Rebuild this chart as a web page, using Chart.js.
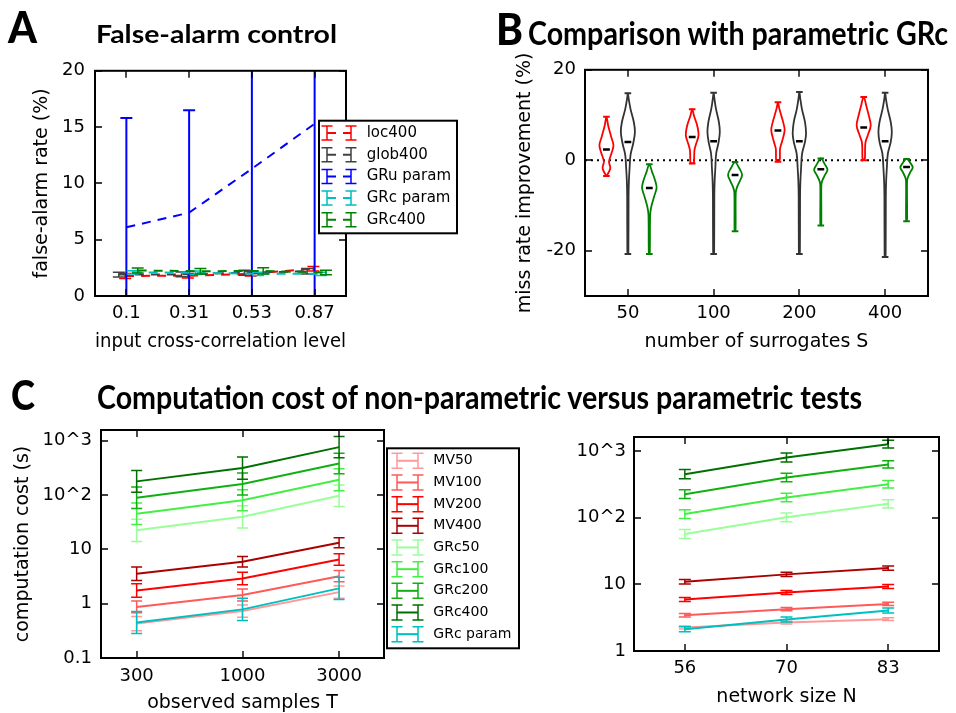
<!DOCTYPE html>
<html><head><meta charset="utf-8">
<script src="https://cdn.jsdelivr.net/npm/chart.js@4.4.1/dist/chart.umd.min.js"></script>
<style>
html,body{margin:0;padding:0;background:#fff;}
#wrap{position:relative;width:956px;height:713px;overflow:hidden;background:#fff;}
canvas{position:absolute;}
.tt{position:absolute;white-space:nowrap;font-family:'Lato','Open Sans',sans-serif;font-weight:700;color:#000;transform-origin:0 0;z-index:5;line-height:1;left:0;top:0;}
.lt{font-weight:900;}
</style></head><body>
<div id="wrap">
<canvas id="cA"></canvas>
<canvas id="cB"></canvas>
<canvas id="cC1"></canvas>
<canvas id="cC2"></canvas>
<div class="tt lt" id="tLA" style="font-size:43px">A</div>
<div class="tt" id="tA" style="font-size:25px">False-alarm control</div>
<div class="tt lt" id="tLB" style="font-size:44px">B</div>
<div class="tt" id="tB" style="font-size:32px">Comparison with parametric GRc</div>
<div class="tt lt" id="tLC" style="font-size:41px">C</div>
<div class="tt" id="tC" style="font-size:32px">Computation cost of non-parametric versus parametric tests</div>
</div>
<script>
// ================= DATA =================
// Panel A : false-alarm rate (%)
const corrLevels = ['0.1', '0.31', '0.53', '0.87'];
const loc400 = [1.78, 1.80, 1.97, 2.43];
const loc400Err = [0.22, 0.20, 0.20, 0.20];
const glob400 = [1.90, 1.92, 2.07, 2.20];
const glob400Err = [0.22, 0.22, 0.22, 0.25];
const gruParam = [6.1, 7.4, 11.3, 15.3];
const gruParamErr = [9.7, 9.1, 13.0, 17.0];
const grcParamA = [2.10, 2.06, 1.97, 1.97];
const grcParamAErr = [0.15, 0.15, 0.15, 0.15];
const grc400A = [2.27, 2.20, 2.23, 2.08];
const grc400AErr = [0.22, 0.25, 0.28, 0.20];
const yTicksA = [0, 5, 10, 15, 20];

// Panel B : miss rate improvement (%) violins, profile = [value, half-width]
const surrogates = ['50', '100', '200', '400'];
const locMedian = [2.4, 5.15, 6.6, 7.25];
const globMedian = [4.05, 4.2, 4.2, 4.2];
const grcMedian = [-6.1, -3.25, -2.0, -1.5];
const locShapes = [
  [[-3.5,0],[-2.7,0.025],[-1.7,0.045],[-0.3,0.03],[1.5,0.058],[3.3,0.082],[5.2,0.055],[7.7,0.02],[9.6,0]],
  [[-0.7,0],[-0.5,0.02],[0.8,0.023],[2.3,0.027],[3.7,0.047],[5.5,0.074],[7.7,0.058],[9.9,0.02],[11.3,0]],
  [[-0.3,0],[0,0.02],[1.2,0.023],[2.6,0.025],[4.1,0.047],[6.6,0.078],[8.5,0.06],[9.9,0.039],[11.5,0.015],[12.8,0]],
  [[0,0],[0.4,0.014],[2.5,0.016],[4.1,0.022],[5.5,0.047],[7.7,0.082],[10,0.058],[12,0.031],[14,0]]
];
const globShapes = [
  [[-20.7,0],[-20.2,0.006],[-8,0.008],[-4.6,0.012],[-1.7,0.02],[1.2,0.031],[3.7,0.062],[6.2,0.082],[8.4,0.07],[11.3,0.031],[13.5,0.01],[14.8,0]],
  [[-20.7,0],[-20.2,0.006],[-8,0.008],[-4.6,0.012],[-1.7,0.02],[1.5,0.03],[4,0.058],[6.2,0.072],[8.4,0.062],[11.3,0.028],[13.5,0.01],[14.9,0]],
  [[-20.7,0],[-20.2,0.006],[-8,0.008],[-4.6,0.012],[-1.7,0.02],[1.5,0.032],[4,0.065],[5.9,0.078],[8.4,0.066],[11.3,0.03],[13.7,0.01],[15.1,0]],
  [[-21.4,0],[-20.9,0.006],[-8,0.008],[-4.6,0.012],[-1.7,0.02],[1.5,0.032],[4,0.065],[6.2,0.078],[8.4,0.066],[11.3,0.03],[13.5,0.01],[14.9,0]]
];
const grcShapes = [
  [[-20.7,0],[-20.2,0.006],[-12,0.01],[-10.1,0.025],[-7.9,0.058],[-6.1,0.085],[-4.6,0.07],[-2.5,0.031],[-0.9,0]],
  [[-15.7,0],[-15.2,0.006],[-7.2,0.008],[-6.1,0.02],[-4.6,0.055],[-3.2,0.082],[-1.7,0.047],[-0.4,0]],
  [[-14.4,0],[-13.9,0.006],[-5.5,0.006],[-4.6,0.015],[-3.3,0.047],[-2.1,0.078],[-0.9,0.047],[0.4,0]],
  [[-13.5,0],[-13.0,0.006],[-4.6,0.006],[-3.8,0.015],[-2.5,0.047],[-1.6,0.072],[-0.65,0.047],[0.3,0]]
];
const yTicksB = [-20, 0, 20];

// Panel C left : computation cost (s) vs observed samples T
const samplesT = [300, 1000, 3000];
const mv50T = [0.43, 0.73, 1.63];    const mv50TF = [1.35, 1.30, 1.30];
const mv100T = [0.87, 1.44, 3.2];    const mv100TF = [1.28, 1.29, 1.27];
const mv200T = [1.75, 2.91, 6.5];    const mv200TF = [1.33, 1.30, 1.27];
const mv400T = [3.55, 5.9, 13.2];    const mv400TF = [1.33, 1.25, 1.24];
const grc50T = [22.4, 39.6, 97];     const grc50TF = [1.60, 1.60, 1.58];
const grc100T = [45, 80, 191];       const grc100TF = [1.58, 1.56, 1.59];
const grc200T = [89, 159, 380];      const grc200TF = [1.57, 1.59, 1.55];
const grc400T = [178, 313, 760];     const grc400TF = [1.59, 1.60, 1.57];
const grcParamT = [0.45, 0.785, 1.91]; const grcParamTF = [1.6, 1.6, 1.6];
const yTicksC = [0.1, 1, 10, 100, 1000];
const yTickLabelsC = ['0.1', '1', '10', '10^2', '10^3'];

// Panel C right : computation cost (s) vs network size N
const netSizeN = ['56', '70', '83'];
const mv50N = [2.25, 2.67, 3.0];     const mv50NF = [1.05, 1.05, 1.05];
const mv100N = [3.44, 4.24, 5.09];   const mv100NF = [1.06, 1.06, 1.06];
const mv200N = [5.93, 7.55, 9.3];    const mv200NF = [1.07, 1.07, 1.07];
const mv400N = [10.9, 14.1, 17.5];   const mv400NF = [1.08, 1.08, 1.075];
const grc50N = [57, 101, 161];       const grc50NF = [1.17, 1.16, 1.15];
const grc100N = [113, 200, 317];     const grc100NF = [1.16, 1.16, 1.135];
const grc200N = [225, 400, 628];     const grc200NF = [1.16, 1.16, 1.135];
const grc400N = [449, 798, 1265];    const grc400NF = [1.175, 1.17, 1.14];
const grcParamN = [2.12, 2.97, 4.05]; const grcParamNF = [1.09, 1.09, 1.09];

// ================= STYLE =================
const FONT = "'DejaVu Sans'";
const TICK_SIZE = 18, TITLE_SIZE = 19;
Chart.defaults.font.family = FONT;
Chart.defaults.font.size = TICK_SIZE;
Chart.defaults.color = '#000';
const RED = '#ff0000', GRAY = '#333333', BLUE = '#0000ff', CYAN = '#00bfbf', GREEN = '#008000';
const MVC = ['#ff9999', '#ff5a5a', '#ff0000', '#aa0000'];
const GRCC = ['#99ff99', '#44ee44', '#11b011', '#007000'];

// ================= PLUGINS =================
const errorBars = {
  id: 'errorBars',
  afterDatasetDraw(chart, args) {
    const ds = chart.data.datasets[args.index];
    if (!ds.errLo) return;
    const {ctx, chartArea: a, scales: {x, y}} = chart;
    ctx.save();
    ctx.beginPath(); ctx.rect(a.left, a.top, a.right - a.left, a.bottom - a.top); ctx.clip();
    ctx.strokeStyle = ds.borderColor; ctx.lineWidth = ds.errWidth || 1.5; ctx.setLineDash([]);
    const c = ds.capHalf || 5.5;
    ds.data.forEach((p, i) => {
      const px = x.getPixelForValue(p.x);
      const yl = y.getPixelForValue(ds.errLo[i]);
      const yh = y.getPixelForValue(ds.errHi[i]);
      ctx.beginPath();
      ctx.moveTo(px, yl); ctx.lineTo(px, yh);
      ctx.moveTo(px - c, yl); ctx.lineTo(px + c, yl);
      ctx.moveTo(px - c, yh); ctx.lineTo(px + c, yh);
      ctx.stroke();
    });
    ctx.restore();
  }
};

const mplDeco = {
  id: 'mplDeco',
  afterDraw(chart, args, o) {
    const {ctx, chartArea: a, scales: {x, y}} = chart;
    ctx.save();
    ctx.setLineDash([]);
    ctx.strokeStyle = '#000'; ctx.lineWidth = 1.4;
    const L = 7;
    x.ticks.forEach(t => {
      const px = Math.round(x.getPixelForValue(t.value));
      ctx.beginPath();
      ctx.moveTo(px, a.bottom); ctx.lineTo(px, a.bottom - L);
      ctx.moveTo(px, a.top); ctx.lineTo(px, a.top + L);
      ctx.stroke();
    });
    y.ticks.forEach(t => {
      const py = Math.round(y.getPixelForValue(t.value));
      ctx.beginPath();
      ctx.moveTo(a.left, py); ctx.lineTo(a.left + L, py);
      ctx.moveTo(a.right, py); ctx.lineTo(a.right - L, py);
      ctx.stroke();
    });
    ctx.lineWidth = 2;
    ctx.strokeRect(a.left, a.top, a.right - a.left, a.bottom - a.top);
    const lg = o && o.legend;
    if (lg) {
      const [x0, y0, x1, y1] = lg.box;
      ctx.fillStyle = '#fff'; ctx.fillRect(x0, y0, x1 - x0, y1 - y0);
      ctx.lineWidth = 2; ctx.strokeStyle = '#000'; ctx.strokeRect(x0, y0, x1 - x0, y1 - y0);
      chart.data.datasets.filter(d => d.inLegend).forEach((d, i) => {
        const cy = lg.firstY + i * lg.dy;
        ctx.strokeStyle = d.borderColor;
        ctx.lineWidth = d.borderWidth;
        ctx.setLineDash(d.borderDash || []);
        ctx.beginPath(); ctx.moveTo(lg.gx0, cy); ctx.lineTo(lg.gx1, cy); ctx.stroke();
        ctx.setLineDash([]); ctx.lineWidth = 1.5;
        [lg.gx0, lg.gx1].forEach(gx => {
          ctx.beginPath();
          ctx.moveTo(gx, cy - lg.half); ctx.lineTo(gx, cy + lg.half);
          ctx.moveTo(gx - lg.cap, cy - lg.half); ctx.lineTo(gx + lg.cap, cy - lg.half);
          ctx.moveTo(gx - lg.cap, cy + lg.half); ctx.lineTo(gx + lg.cap, cy + lg.half);
          ctx.stroke();
        });
        ctx.fillStyle = '#000';
        ctx.font = lg.font + 'px ' + FONT;
        ctx.textBaseline = 'middle'; ctx.textAlign = 'left';
        ctx.fillText(d.label, lg.tx, cy);
      });
    }
    ctx.restore();
  }
};

// ================= HELPERS =================
function axisX(o) {
  return {
    type: o.type || 'linear', position: 'bottom', min: o.min, max: o.max,
    grid: {display: false, drawTicks: false}, border: {display: false},
    ticks: {autoSkip: false, maxRotation: 0, minRotation: 0, padding: o.tickPad, color: '#000',
            font: {size: TICK_SIZE}, callback: (v, i) => o.labels[i]},
    title: {display: !!o.title, text: o.title || '', color: '#000', font: {size: o.titleSize || TITLE_SIZE},
            padding: {top: 0, bottom: o.titlePad || 0}},
    afterBuildTicks: s => { s.ticks = o.ticks.map(v => ({value: v})); },
    afterFit: s => { s.height = o.size; }
  };
}
function axisY(o) {
  return {
    type: o.type || 'linear', position: 'left', min: o.min, max: o.max,
    grid: {display: false, drawTicks: false}, border: {display: false},
    ticks: {autoSkip: false, padding: o.tickPad, color: '#000', font: {size: TICK_SIZE},
            callback: (v, i) => o.labels[i]},
    title: {display: !!o.title, text: o.title || '', color: '#000', font: {size: o.titleSize || TITLE_SIZE},
            padding: {top: o.titlePad || 0, bottom: 0}},
    afterBuildTicks: s => { s.ticks = o.ticks.map(v => ({value: v})); },
    afterFit: s => { s.width = o.size; }
  };
}
function makeChart(id, g, type, datasets, xo, yo, deco) {
  const cv = document.getElementById(id);
  cv.width = g.w; cv.height = g.h;
  cv.style.left = g.x + 'px'; cv.style.top = g.y + 'px';
  cv.style.width = g.w + 'px'; cv.style.height = g.h + 'px';
  xo.size = g.y + g.h - g.b; yo.size = g.l - g.x;
  return new Chart(cv, {
    type, data: {datasets},
    options: {
      responsive: false, animation: false, devicePixelRatio: 1, events: [],
      layout: {padding: {left: 0, top: g.t - g.y, right: g.x + g.w - g.r, bottom: 0}},
      plugins: {legend: {display: false}, tooltip: {enabled: false}, mplDeco: deco || {}},
      elements: {point: {radius: 0, hoverRadius: 0}, line: {tension: 0}},
      scales: {x: axisX(xo), y: axisY(yo)}
    },
    plugins: [errorBars, mplDeco]
  });
}

// ================= PANEL A =================
function errSeries(label, vals, errs, color, off, idx, extra) {
  return Object.assign({
    label, inLegend: true, order: -idx,
    data: vals.map((v, i) => ({x: i + 1 + off, y: v})),
    errLo: vals.map((v, i) => v - errs[i]), errHi: vals.map((v, i) => v + errs[i]),
    borderColor: color, borderWidth: 2, borderDash: [9, 7], fill: false, pointRadius: 0,
    capHalf: 6, errWidth: 1.5
  }, extra || {});
}
const dsA = [
  errSeries('loc400', loc400, loc400Err, RED, -0.02, 0),
  errSeries('glob400', glob400, glob400Err, '#404040', -0.12, 1),
  errSeries('GRu param', gruParam, gruParamErr, BLUE, 0, 2, {errWidth: 2}),
  errSeries('GRc param', grcParamA, grcParamAErr, CYAN, 0.1, 3),
  errSeries('GRc400', grc400A, grc400AErr, GREEN, 0.18, 4)
];
makeChart('cA', {x: 0, y: 50, w: 480, h: 310, l: 95, t: 67, r: 346, b: 296}, 'line', dsA,
  {min: 0.5, max: 4.5, ticks: [1, 2, 3, 4], labels: corrLevels, tickPad: 6.4,
   title: 'input cross-correlation level', titlePad: 6.2, titleSize: 20},
  {min: 0, max: 20, ticks: yTicksA, labels: yTicksA.map(String), tickPad: 10,
   title: 'false-alarm rate (%)', titlePad: 30.8},
  {legend: {box: [319, 70.7, 457, 183.3], firstY: 83, dy: 21.7, gx0: 327, gx1: 351, tx: 366.7, cap: 5.5, half: 7, font: 15}});

// ================= PANEL B =================
function violinPts(center, shape) {
  const right = shape.map(([v, w]) => ({x: center + w, y: v}));
  const left = shape.slice().reverse().map(([v, w]) => ({x: center - w, y: v}));
  return right.concat(left.slice(1));
}
const dsB = [{
  data: [{x: 0.5, y: 0}, {x: 4.5, y: 0}], showLine: true, borderColor: '#000', borderWidth: 2,
  borderDash: [2, 4], pointRadius: 0, order: 10
}];
const groupsB = [
  {shapes: locShapes, med: locMedian, color: RED, off: -0.25},
  {shapes: globShapes, med: globMedian, color: GRAY, off: 0},
  {shapes: grcShapes, med: grcMedian, color: GREEN, off: 0.25}
];
const medPts = [];
groupsB.forEach(gr => {
  const capPts = [];
  gr.shapes.forEach((sh, i) => {
    const c = i + 1 + gr.off;
    dsB.push({data: violinPts(c, sh), showLine: true, borderColor: gr.color, borderWidth: 1.8,
              pointRadius: 0, tension: 0.35, fill: false, order: 5});
    capPts.push({x: c, y: sh[0][0]}, {x: c, y: sh[sh.length - 1][0]});
    medPts.push({x: c, y: gr.med[i]});
  });
  dsB.push({data: capPts, showLine: false, pointStyle: 'line', pointRadius: 3.3, pointBorderWidth: 2,
            pointBorderColor: gr.color, borderColor: gr.color, order: 4});
});
dsB.push({data: medPts, showLine: false, pointStyle: 'line', pointRadius: 3.4, pointBorderWidth: 2.5,
          pointBorderColor: '#000', borderColor: '#000', order: 1});
makeChart('cB', {x: 480, y: 50, w: 476, h: 310, l: 585, t: 67, r: 928, b: 296}, 'scatter', dsB,
  {min: 0.5, max: 4.5, ticks: [1, 2, 3, 4], labels: surrogates, tickPad: 6.4,
   title: 'number of surrogates S', titlePad: 6.8},
  {min: -30, max: 20, ticks: yTicksB, labels: yTicksB.map(String), tickPad: 9,
   title: 'miss rate improvement (%)', titlePad: 33.8});

// ================= PANEL C =================
function logSeries(label, xs, vals, fac, color, idx, cap) {
  return {
    label, inLegend: true, order: -idx,
    data: vals.map((v, i) => ({x: xs[i], y: v})),
    errLo: vals.map((v, i) => v / fac[i]), errHi: vals.map((v, i) => v * fac[i]),
    borderColor: color, borderWidth: 2, fill: false, pointRadius: 0, capHalf: cap, errWidth: 1.5
  };
}
const idxN = [1, 2, 3];
const dsC1 = [
  logSeries('MV50', samplesT, mv50T, mv50TF, MVC[0], 0, 5.5),
  logSeries('MV100', samplesT, mv100T, mv100TF, MVC[1], 1, 5.5),
  logSeries('MV200', samplesT, mv200T, mv200TF, MVC[2], 2, 5.5),
  logSeries('MV400', samplesT, mv400T, mv400TF, MVC[3], 3, 5.5),
  logSeries('GRc50', samplesT, grc50T, grc50TF, GRCC[0], 4, 5.5),
  logSeries('GRc100', samplesT, grc100T, grc100TF, GRCC[1], 5, 5.5),
  logSeries('GRc200', samplesT, grc200T, grc200TF, GRCC[2], 6, 5.5),
  logSeries('GRc400', samplesT, grc400T, grc400TF, GRCC[3], 7, 5.5),
  logSeries('GRc param', samplesT, grcParamT, grcParamTF, CYAN, 8, 5.5)
];
makeChart('cC1', {x: 0, y: 400, w: 530, h: 315, l: 101, t: 430, r: 384, b: 658}, 'line', dsC1,
  {type: 'logarithmic', min: 200, max: 5000, ticks: samplesT, labels: samplesT.map(String), tickPad: 7.4,
   title: 'observed samples T', titlePad: 0.4},
  {type: 'logarithmic', min: 0.1, max: 1570, ticks: yTicksC, labels: yTickLabelsC, tickPad: 9,
   title: 'computation cost (s)', titlePad: 11.8},
  {legend: {box: [387, 48.3, 519, 248.3], firstY: 60.8, dy: 21.67, gx0: 397, gx1: 418, tx: 433.3, cap: 5.5, half: 7.5, font: 14}});

const dsC2 = [
  logSeries('MV50', idxN, mv50N, mv50NF, MVC[0], 0, 6),
  logSeries('MV100', idxN, mv100N, mv100NF, MVC[1], 1, 6),
  logSeries('MV200', idxN, mv200N, mv200NF, MVC[2], 2, 6),
  logSeries('MV400', idxN, mv400N, mv400NF, MVC[3], 3, 6),
  logSeries('GRc50', idxN, grc50N, grc50NF, GRCC[0], 4, 6),
  logSeries('GRc100', idxN, grc100N, grc100NF, GRCC[1], 5, 6),
  logSeries('GRc200', idxN, grc200N, grc200NF, GRCC[2], 6, 6),
  logSeries('GRc400', idxN, grc400N, grc400NF, GRCC[3], 7, 6),
  logSeries('GRc param', idxN, grcParamN, grcParamNF, CYAN, 8, 6)
];
makeChart('cC2', {x: 540, y: 400, w: 416, h: 315, l: 634, t: 437, r: 939, b: 651}, 'line', dsC2,
  {min: 0.5, max: 3.5, ticks: idxN, labels: netSizeN, tickPad: 6.4, title: 'network size N', titlePad: 6.8},
  {type: 'logarithmic', min: 1, max: 1620, ticks: [1, 10, 100, 1000], labels: ['1', '10', '10^2', '10^3'], tickPad: 8});

// ================= TITLES =================
function placeText(id, left, baseline, width) {
  const el = document.getElementById(id);
  const m = document.createElement('span');
  m.style.cssText = 'display:inline-block;width:0;height:0;vertical-align:baseline';
  el.appendChild(m);
  const base = m.offsetTop;
  const w = el.getBoundingClientRect().width;
  el.style.left = left + 'px';
  el.style.top = (baseline - base) + 'px';
  if (width && w > 0) el.style.transform = 'scaleX(' + (width / w) + ')';
}
placeText('tLA', 8, 43, 29);
placeText('tA', 96, 43.3, 241);
placeText('tLB', 496, 45, 27);
placeText('tB', 528, 45, 420);
placeText('tLC', 11, 410, 24);
placeText('tC', 97, 408.7, 765);
</script>
</body></html>
